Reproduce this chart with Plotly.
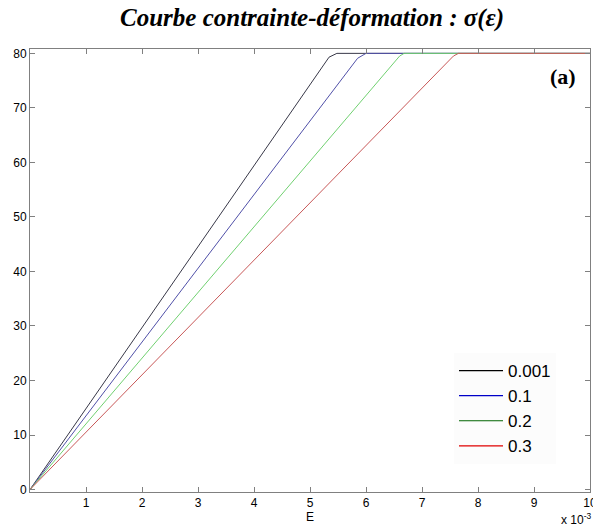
import plotly.graph_objects as go

# Data (strain in units of 1, stress)
series_names = ["0.001", "0.1", "0.2", "0.3"]
strain_0001 = [0.0, 0.00534, 0.00548, 0.010]
stress_0001 = [0.0, 79.3, 80.0, 80.0]
strain_01 = [0.0, 0.00585, 0.00600, 0.010]
stress_01 = [0.0, 79.1, 80.0, 80.0]
strain_02 = [0.0, 0.00660, 0.00668, 0.010]
stress_02 = [0.0, 79.5, 80.0, 80.0]
strain_03 = [0.0, 0.00756, 0.00765, 0.010]
stress_03 = [0.0, 79.5, 80.0, 80.0]

x_tickvals = [0.001, 0.002, 0.003, 0.004, 0.005, 0.006, 0.007, 0.008, 0.009, 0.010]
x_ticktext = ["1", "2", "3", "4", "5", "6", "7", "8", "9", "10"]
y_tickvals = [0, 10, 20, 30, 40, 50, 60, 70, 80]

line_colors = ["#383848", "#5050a8", "#70d070", "#c85858"]
legend_colors = ["#000000", "#0000c8", "#006400", "#e00000"]

xs = [strain_0001, strain_01, strain_02, strain_03]
ys = [stress_0001, stress_01, stress_02, stress_03]

SERIF = "Times New Roman, Liberation Serif, serif"
SANS = "Arial, Liberation Sans, sans-serif"

fig = go.Figure()
for x, y, c in zip(xs, ys, line_colors):
    fig.add_trace(go.Scatter(x=x, y=y, mode="lines", line=dict(color=c, width=1),
                             showlegend=False, hoverinfo="skip"))
for name, c in zip(series_names, legend_colors):
    fig.add_trace(go.Scatter(x=[None], y=[None], mode="lines", name=name,
                             line=dict(color=c, width=1.2)))

axis_common = dict(showgrid=False, zeroline=False, showline=True, linecolor="#808080",
                   linewidth=1, mirror="ticks", ticks="inside", ticklen=5, automargin=False,
                   ticklabeloverflow="allow",
                   tickcolor="#808080", tickfont=dict(family=SANS, size=12, color="black"))

fig.update_xaxes(range=[0, 0.010], tickvals=x_tickvals, ticktext=x_ticktext, **axis_common)
fig.update_yaxes(range=[-0.45, 80.8], tickvals=y_tickvals, **axis_common)

fig.update_layout(
    width=593, height=528,
    margin=dict(l=30, r=3, t=49, b=36, autoexpand=False),
    paper_bgcolor="white", plot_bgcolor="white",
    legend=dict(x=(454 - 30) / 560, y=(492 - 353) / 443, xanchor="left", yanchor="top",
                bgcolor="#fcfcfc", borderwidth=0, itemwidth=44,
                font=dict(family=SANS, size=17, color="black"),
                tracegroupgap=0),
    annotations=[
        dict(text="<b><i>Courbe contrainte-déformation : σ(ε)</i></b>", xref="paper", yref="paper",
             x=(312 - 30) / 560, y=1, xanchor="center", yanchor="middle", yshift=31, showarrow=False,
             font=dict(family=SERIF, size=25, color="black")),
        dict(text="<b>(a)</b>", xref="paper", yref="paper", x=(578 - 30) / 560, y=(492 - 77) / 443,
             xanchor="right", yanchor="middle", showarrow=False,
             font=dict(family=SERIF, size=22, color="black")),
        dict(text="E", xref="paper", yref="paper", x=(310 - 30) / 560, y=0, xanchor="center",
             yanchor="top", yshift=-16, showarrow=False,
             font=dict(family=SANS, size=12, color="black")),
        dict(text="x 10<sup>-3</sup>", xref="paper", yref="paper", x=(559 - 30) / 560, y=0,
             xanchor="left", yanchor="top", yshift=-17, showarrow=False,
             font=dict(family=SANS, size=12, color="black")),
    ],
)

fig.write_html("out.html", config={"displayModeBar": False},
               post_script="document.body.style.margin='0';document.body.style.overflow='hidden';")
